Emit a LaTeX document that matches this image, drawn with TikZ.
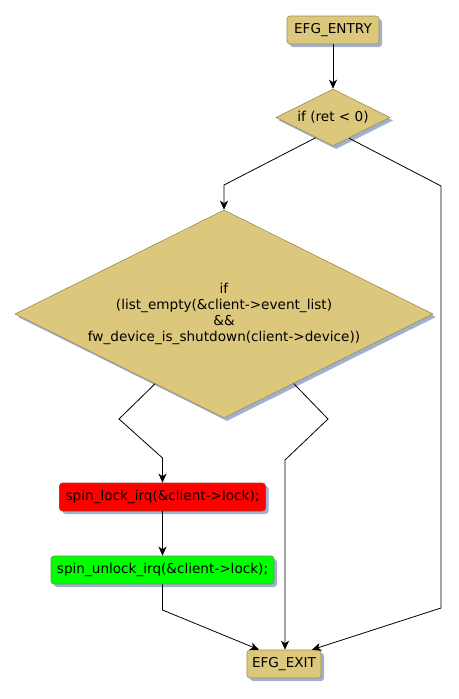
\documentclass[tikz,border=0pt]{standalone}
\usepackage{fontspec}
\setmainfont{DejaVu Sans}
\usetikzlibrary{shapes.geometric,shadows,arrows.meta,calc}
\definecolor{khaki}{RGB}{220,200,124}
\definecolor{khakiborder}{RGB}{160,140,80}
\definecolor{shade}{RGB}{160,176,208}
\definecolor{redborder}{RGB}{170,60,40}
\definecolor{greenborder}{RGB}{90,160,60}
\tikzset{
  base/.style={font=\fontsize{13.6}{16}\selectfont, text=black, line width=0.6pt,
    drop shadow={shadow xshift=3pt, shadow yshift=-3pt, fill=shade, opacity=1}},
  blockbox/.style={base, rectangle, rounded corners=3pt, minimum height=28pt, inner sep=0pt},
  termbox/.style={blockbox, fill=khaki, draw=khakiborder},
  decision/.style={base, diamond, aspect=2, inner sep=0pt, align=center, fill=khaki, draw=khakiborder},
  conn/.style={line width=0.8pt, -{Stealth[length=9pt,width=8pt,inset=2.5pt]}},
}
\begin{document}
\begin{tikzpicture}[x=1pt,y=-1pt]
\useasboundingbox[fill=white] (0,0) rectangle (458,699);
% nodes
\node[termbox, minimum width=92pt] (entry) at (333,30) {EFG\_ENTRY};
\node[decision, minimum width=114pt, minimum height=57pt] (d1) at (333,117.5) {if (ret < 0)};
\node[decision, minimum width=418pt, minimum height=208pt] (d2) at (224,314)
  {if\\(list\_empty(\&client->event\_list)\\\&\&\\fw\_device\_is\_shutdown(client->device))};
\node[blockbox, fill=red, draw=redborder, minimum width=206pt] (lock) at (162.5,497) {spin\_lock\_irq(\&client->lock);};
\node[blockbox, fill=green, draw=greenborder, minimum width=223pt] (unlock) at (162.5,570) {spin\_unlock\_irq(\&client->lock);};
\node[termbox, minimum width=74pt] (exit) at (284,664) {EFG\_EXIT};
% bend points
\coordinate (a1) at (224,185);
\coordinate (r1) at (441,186);
\coordinate (r2) at (441,608);
\coordinate (b1) at (119,419);
\coordinate (b2) at (162.5,458);
\coordinate (c1) at (328,419);
\coordinate (c2) at (285,460);
\coordinate (u1) at (162.5,610);
% connectors
\draw[conn] (entry) -- (d1);
\draw[conn] ($(d1.west)!0.7!(d1.south)$) -- (a1) -- (d2.north);
\draw[conn] ($(d1.south)!0.28!(d1.east)$) -- (r1) -- (r2) -- ($(exit.north)!0.75!(exit.north east)$);
\draw[conn] ($(d2.west)!0.67!(d2.south)$) -- (b1) -- (b2) -- (lock.north);
\draw[conn] ($(d2.south)!0.333!(d2.east)$) -- (c1) -- (c2) -- (c2 |- exit.north);
\draw[conn] (lock.south) -- (unlock.north);
\draw[conn] (unlock.south) -- (u1) -- ($(exit.north west)!0.33!(exit.north)$);
\end{tikzpicture}
\end{document}
